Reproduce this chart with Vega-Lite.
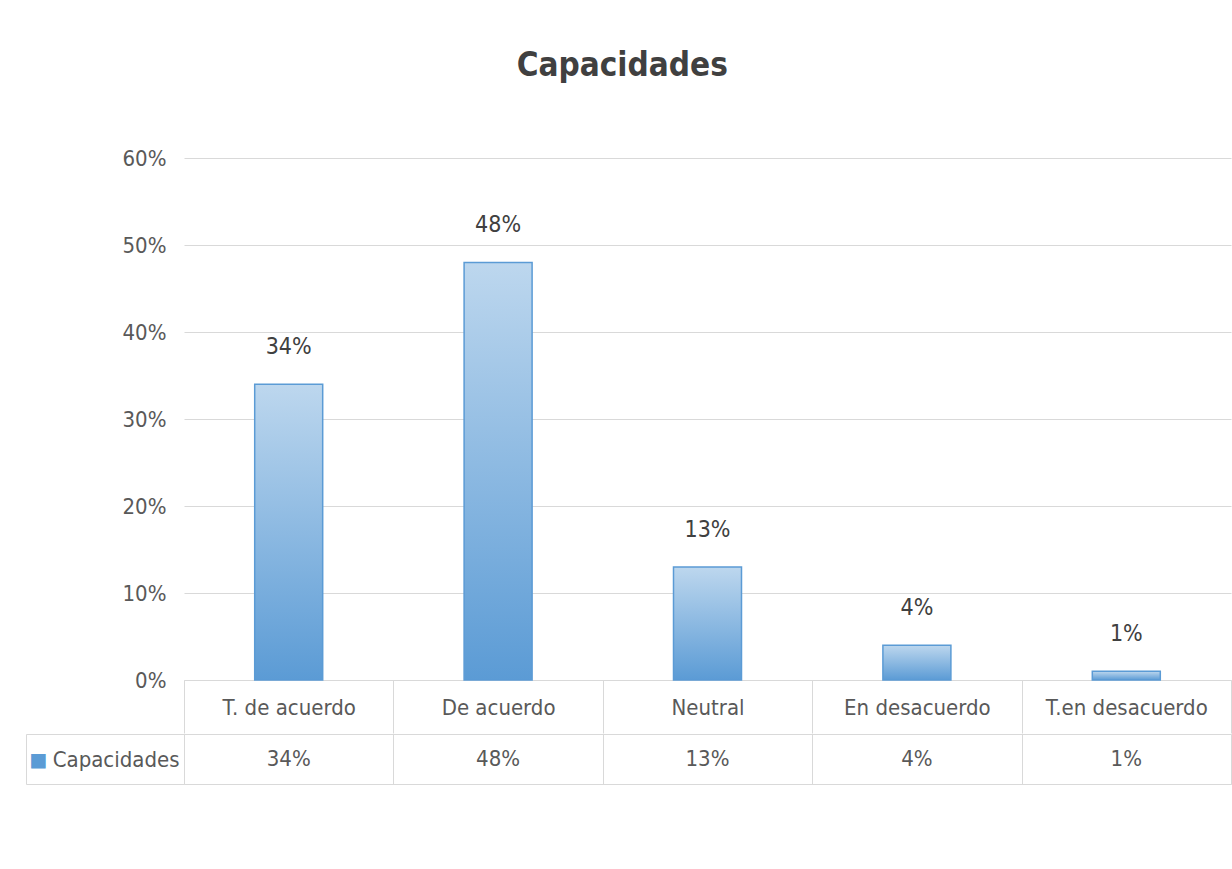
{
  "$schema": "https://vega.github.io/schema/vega-lite/v6.json",
  "background": "white",
  "padding": {"left": 25, "top": 50, "right": 2, "bottom": 0},
  "spacing": -15,
  "title": {
    "text": "Capacidades",
    "fontSize": 33,
    "font": "DejaVu Sans Condensed",
    "fontWeight": "bold",
    "color": "#404040",
    "anchor": "middle",
    "frame": "bounds",
    "dx": -6,
    "offset": 64
  },
  "config": {
    "font": "DejaVu Sans Condensed",
    "concat": {"spacing": -15}
  },
  "datasets": {
    "d": [
      {"categoria": "T. de acuerdo", "serie": "Capacidades", "valor": 0.34},
      {"categoria": "De acuerdo", "serie": "Capacidades", "valor": 0.48},
      {"categoria": "Neutral", "serie": "Capacidades", "valor": 0.13},
      {"categoria": "En desacuerdo", "serie": "Capacidades", "valor": 0.04},
      {"categoria": "T.en desacuerdo", "serie": "Capacidades", "valor": 0.01}
    ]
  },
  "vconcat": [
    {
      "width": 1047,
      "height": 522,
      "view": {"stroke": null},
      "data": {"name": "d"},
      "encoding": {
        "x": {
          "field": "categoria",
          "type": "nominal",
          "sort": null,
          "scale": {"paddingInner": 0, "paddingOuter": 0},
          "axis": {
            "title": null,
            "labelAngle": 0,
            "labelFontSize": 22,
            "labelColor": "#595959",
            "labelBaseline": "middle",
            "labelPadding": -26,
            "labelLimit": 0,
            "tickBand": "extent",
            "tickSize": 53,
            "tickColor": "#d9d9d9",
            "domainColor": "#d9d9d9",
            "grid": false
          }
        }
      },
      "layer": [
        {
          "mark": {
            "type": "bar",
            "width": 68,
            "fill": {
              "gradient": "linear",
              "x1": 0, "y1": 0, "x2": 0, "y2": 1,
              "stops": [
                {"offset": 0, "color": "#bdd7ee"},
                {"offset": 1, "color": "#5b9bd5"}
              ]
            },
            "stroke": "#5b9bd5",
            "strokeWidth": 1.5
          },
          "encoding": {
            "y": {
              "field": "valor",
              "type": "quantitative",
              "scale": {"domain": [0, 0.6]},
              "axis": {
                "title": null,
                "format": ".0%",
                "values": [0, 0.1, 0.2, 0.3, 0.4, 0.5, 0.6],
                "grid": true,
                "gridColor": "#d9d9d9",
                "domain": false,
                "ticks": false,
                "tickSize": 0,
                "labelFontSize": 22,
                "labelColor": "#595959",
                "labelPadding": 18
              }
            }
          }
        },
        {
          "mark": {
            "type": "text",
            "baseline": "alphabetic",
            "dy": -30,
            "fontSize": 23,
            "color": "#404040"
          },
          "encoding": {
            "y": {"field": "valor", "type": "quantitative"},
            "text": {"field": "valor", "type": "quantitative", "format": ".0%"}
          }
        }
      ]
    },
    {
      "width": 1047,
      "height": 50,
      "view": {"stroke": "#d9d9d9"},
      "data": {"name": "d"},
      "mark": {"type": "text", "fontSize": 22, "color": "#595959"},
      "encoding": {
        "x": {
          "field": "categoria",
          "type": "nominal",
          "sort": null,
          "scale": {"paddingInner": 0, "paddingOuter": 0},
          "axis": {
            "title": null,
            "labels": false,
            "ticks": false,
            "domain": false,
            "grid": true,
            "tickBand": "extent",
            "gridColor": "#d9d9d9"
          }
        },
        "y": {
          "field": "serie",
          "type": "nominal",
          "scale": {"paddingInner": 0, "paddingOuter": 0},
          "axis": {
            "title": "■",
            "titleColor": "#5b9bd5",
            "titleFontSize": 19,
            "titleFont": "DejaVu Sans",
            "titleAngle": 0,
            "titleAlign": "center",
            "titleBaseline": "middle",
            "titleX": 12,
            "titleY": 25,
            "labelFontSize": 22,
            "labelColor": "#595959",
            "labelPadding": 5,
            "labelLimit": 0,
            "offset": 158,
            "tickBand": "extent",
            "tickSize": -158,
            "tickColor": "#d9d9d9",
            "domainColor": "#d9d9d9"
          }
        },
        "text": {"field": "valor", "type": "quantitative", "format": ".0%"}
      }
    }
  ]
}
